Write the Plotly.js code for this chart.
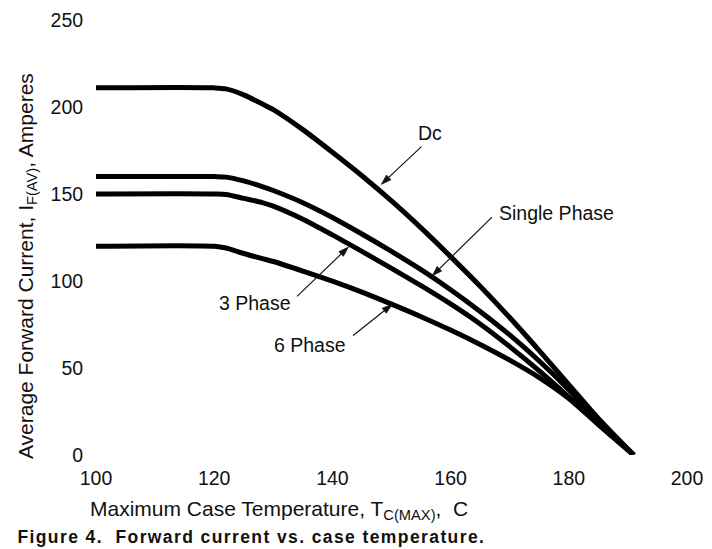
<!DOCTYPE html>
<html>
<head>
<meta charset="utf-8">
<script src="https://cdn.plot.ly/plotly-3.0.1.min.js"></script>
<style>
  html, body { margin: 0; padding: 0; background: #fff; }
  #chart { width: 712px; height: 549px; }
</style>
</head>
<body>
<div id="chart"></div>
<script>
// Case temperature (°C) sample points
const temperature = [100, 120, 122, 125, 128, 130, 135, 140, 145, 150, 155, 160, 165, 170, 175, 180, 185, 191];

// Average forward current (A) per waveform
const dcCurrent     = [211, 211, 210.4, 207, 202, 198.5, 187, 174, 160.5, 146, 130.5, 114, 97, 79, 60, 40.5, 21, 0];
const singleCurrent = [160, 160, 159.7, 157.5, 154.4, 152, 145, 136.5, 127, 117, 106.5, 95, 82.5, 69, 54, 37.5, 19.5, 0];
const threeCurrent  = [150, 150, 149.7, 147.5, 145.2, 143, 135.5, 126.5, 117, 107.3, 97.3, 86.8, 75.3, 62.3, 48.3, 33.3, 17.8, 0];
const sixCurrent    = [120, 120, 119, 115.8, 113, 111.2, 105.7, 99.9, 93.6, 86.7, 79.5, 71.8, 63.5, 54.5, 44.5, 32.5, 17.5, 0];

const seriesNames = ["Dc", "Single Phase", "3 Phase", "6 Phase"];
const xTicks = [100, 120, 140, 160, 180, 200];
const yTicks = [0, 50, 100, 150, 200, 250];

const allSeries = [dcCurrent, singleCurrent, threeCurrent, sixCurrent];
const traces = allSeries.map((ys, i) => ({
  x: temperature,
  y: ys,
  name: seriesNames[i],
  type: 'scatter',
  mode: 'lines',
  line: { color: '#000', width: 5, shape: 'spline', smoothing: 0.8 },
  hoverinfo: 'skip'
}));

const FONT = '"Liberation Sans", Arial, Helvetica, sans-serif';
const labelFont = { family: FONT, size: 19.5, color: '#111' };

// Pointer arrow: tip anchored in data space, tail given as pixel offset (y up)
function pointer(tipX, tipY, dx, dy) {
  const len = Math.hypot(dx, dy);
  const ux = dx / len, uy = dy / len;
  const nx = -uy, ny = ux;
  const hl = 10, hw = 3.2;
  const bx = ux * hl, by = uy * hl;
  const f = v => v.toFixed(2);
  const common = { type: 'path', xref: 'x', yref: 'y', xsizemode: 'pixel', ysizemode: 'pixel',
                   xanchor: tipX, yanchor: tipY, layer: 'above' };
  return [
    Object.assign({}, common, {
      path: `M ${f(bx * 0.6)} ${f(by * 0.6)} L ${f(dx)} ${f(dy)}`,
      line: { color: '#111', width: 1.2 }
    }),
    Object.assign({}, common, {
      path: `M 0 0 L ${f(bx + nx * hw)} ${f(by + ny * hw)} L ${f(bx - nx * hw)} ${f(by - ny * hw)} Z`,
      line: { color: '#111', width: 0.8 }, fillcolor: '#111'
    })
  ];
}

const shapes = [].concat(
  pointer(148.3, 155.6, 40, 37.6),
  pointer(156.9, 103.0, 59.7, 58.7),
  pointer(142.7, 119.5, -51.3, -49.3),
  pointer(150.1, 86.5, -39, -31)
);

const layout = {
  width: 712, height: 549,
  margin: { l: 96, r: 25, t: 20, b: 94 },
  paper_bgcolor: '#fff', plot_bgcolor: '#fff',
  showlegend: false,
  xaxis: {
    range: [100, 200], tickvals: xTicks, ticktext: xTicks.map(String),
    showgrid: false, zeroline: false, showline: false,
    ticks: 'outside', ticklen: 6, tickcolor: 'rgba(0,0,0,0)',
    tickfont: { family: FONT, size: 19.5, color: '#111' },
    fixedrange: true
  },
  yaxis: {
    range: [0, 250], tickvals: yTicks, ticktext: yTicks.map(String),
    showgrid: false, zeroline: false, showline: false,
    ticks: 'outside', ticklen: 8, tickcolor: 'rgba(0,0,0,0)',
    tickfont: { family: FONT, size: 19.5, color: '#111' },
    fixedrange: true
  },
  shapes: shapes,
  annotations: [
    // axis titles
    { xref: 'paper', yref: 'paper', x: -0.117, y: 0.434, textangle: -90,
      xanchor: 'center', yanchor: 'middle', showarrow: false,
      text: 'Average Forward Current, I<sub>F(AV)</sub>, Amperes',
      font: { family: FONT, size: 21, color: '#111' } },
    { xref: 'paper', yref: 'paper', x: 0.309, y: -0.126,
      xanchor: 'center', yanchor: 'middle', showarrow: false,
      text: 'Maximum Case Temperature, T<sub>C(MAX)</sub>,  C',
      font: { family: FONT, size: 21, color: '#111' } },
    { xref: 'paper', yref: 'paper', x: 0.263, y: -0.1885,
      xanchor: 'center', yanchor: 'middle', showarrow: false,
      text: '<b>Figure 4.  Forward current vs. case temperature.</b>',
      font: { family: FONT, size: 17.5, color: '#111' } },
    // curve labels
    { xref: 'x', yref: 'y', x: 156.5, y: 185, xanchor: 'center', yanchor: 'middle',
      showarrow: false, text: seriesNames[0], font: labelFont },
    { xref: 'x', yref: 'y', x: 167.9, y: 138.8, xanchor: 'left', yanchor: 'middle',
      showarrow: false, text: seriesNames[1], font: labelFont },
    { xref: 'x', yref: 'y', x: 133.3, y: 87.6, xanchor: 'right', yanchor: 'middle',
      showarrow: false, text: seriesNames[2], font: labelFont },
    { xref: 'x', yref: 'y', x: 142.6, y: 63.2, xanchor: 'right', yanchor: 'middle',
      showarrow: false, text: seriesNames[3], font: labelFont }
  ]
};

Plotly.newPlot('chart', traces, layout, { displayModeBar: false, staticPlot: true }).then(() => {
  document.querySelectorAll('#chart .annotation-text').forEach(t => {
    if (t.textContent.indexOf('Figure') === 0) {
      t.style.letterSpacing = '1.4px';
    }
  });
});
</script>
</body>
</html>
